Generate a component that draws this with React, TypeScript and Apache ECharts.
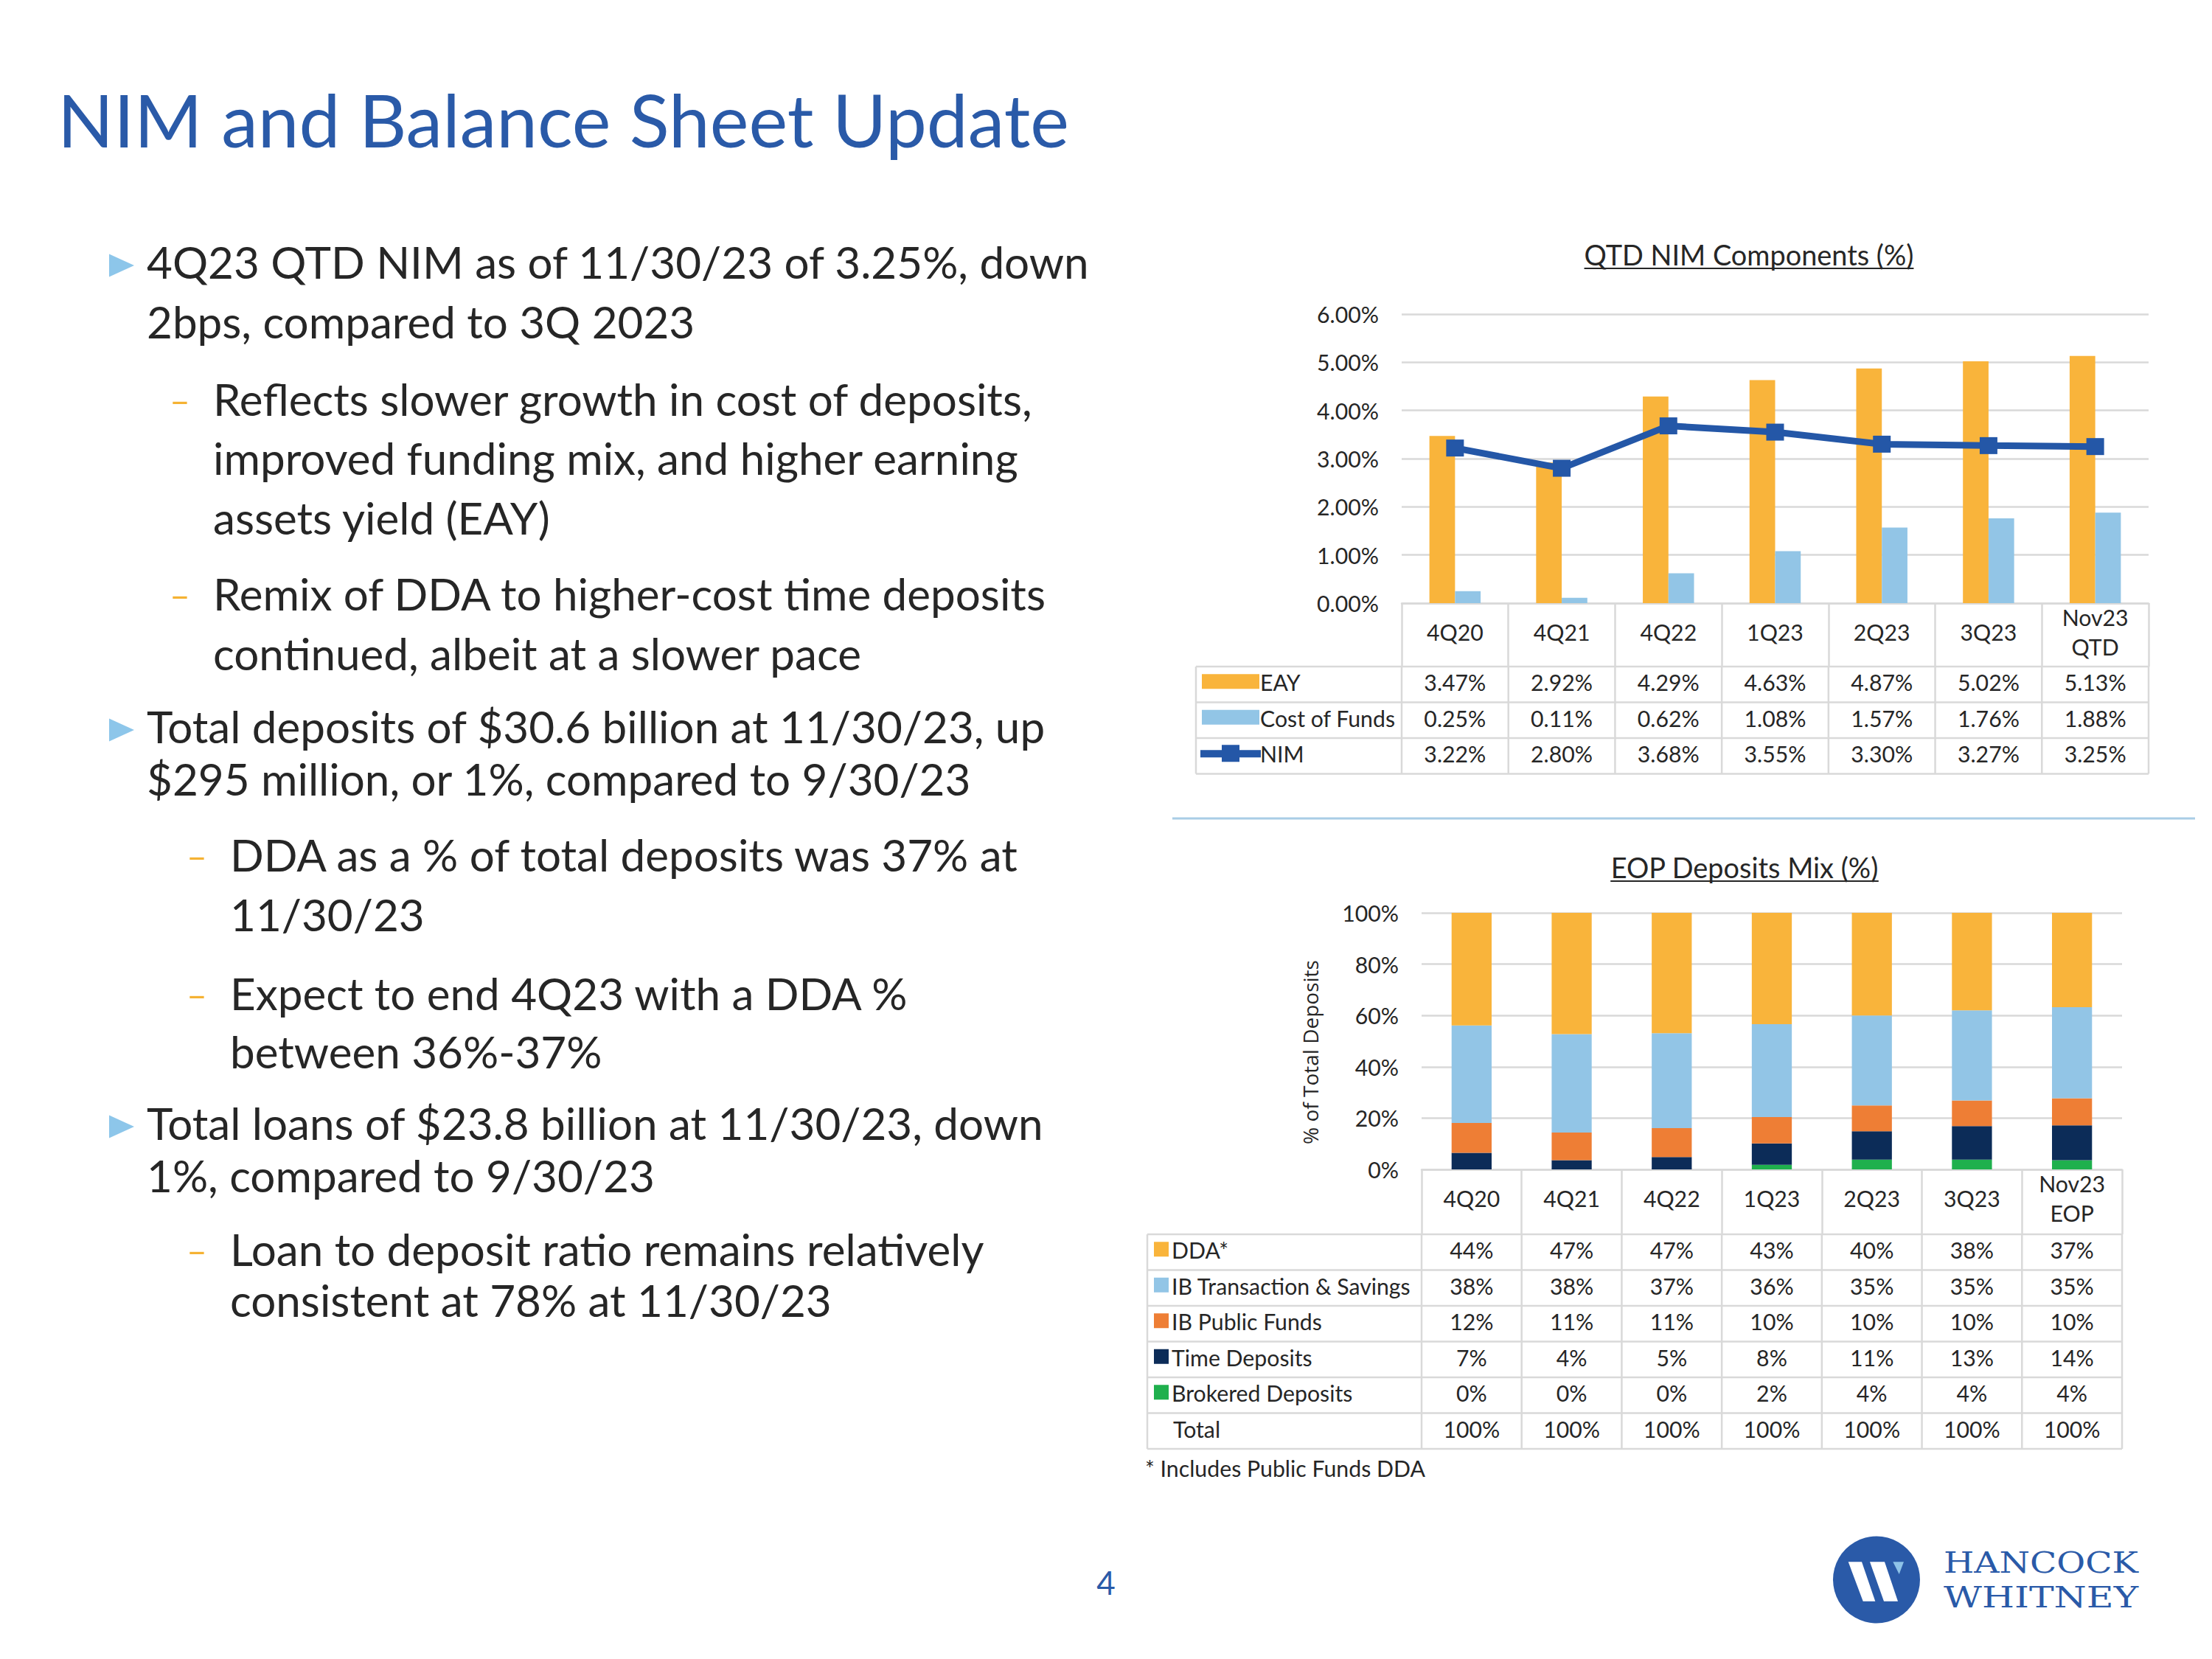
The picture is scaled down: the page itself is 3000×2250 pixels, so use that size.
import React, { useEffect, useRef } from "react";
import * as echarts from "echarts";

// ---------- data ----------
const nimCategories = ["4Q20", "4Q21", "4Q22", "1Q23", "2Q23", "3Q23", "Nov23\nQTD"];
const eay = [3.47, 2.92, 4.29, 4.63, 4.87, 5.02, 5.13];
const costOfFunds = [0.25, 0.11, 0.62, 1.08, 1.57, 1.76, 1.88];
const nim = [3.22, 2.8, 3.68, 3.55, 3.3, 3.27, 3.25];

const mixCategories = ["4Q20", "4Q21", "4Q22", "1Q23", "2Q23", "3Q23", "Nov23\nEOP"];
// bar segment heights (% of total deposits)
const ddaBars = [43.9, 47.3, 46.9, 43.4, 40.0, 38.0, 36.8];
const ibTransBars = [38.0, 38.3, 37.0, 36.2, 35.1, 35.1, 35.5];
const ibPublicBars = [11.6, 10.8, 11.3, 10.3, 10.0, 10.0, 10.5];
const timeBars = [6.5, 3.6, 4.8, 8.3, 11.1, 13.1, 13.6];
const brokeredBars = [0, 0, 0, 1.8, 3.8, 3.8, 3.6];
// values as printed in the table under the bars
const ddaTable = [44, 47, 47, 43, 40, 38, 37];
const ibTransTable = [38, 38, 37, 36, 35, 35, 35];
const ibPublicTable = [12, 11, 11, 10, 10, 10, 10];
const timeTable = [7, 4, 5, 8, 11, 13, 14];
const brokeredTable = [0, 0, 0, 2, 4, 4, 4];
const totalTable = [100, 100, 100, 100, 100, 100, 100];

// ---------- colours ----------
const BLUE = "#2A5AA8";
const TEXT = "#262626";
const GRID = "#D9D9D9";
const C_GOLD = "#F9B43B";
const C_LBLUE = "#92C5E6";
const C_ORANGE = "#EE7E35";
const C_NAVY = "#0C2C58";
const C_GREEN = "#1FB04D";
const C_NIM = "#2457A7";

const W = 3000;
const H = 2250;

export default function App() {
  const ref = useRef<HTMLDivElement>(null);

  useEffect(() => {
    const el = ref.current!;
    const chart = echarts.init(el, undefined, { renderer: "svg", width: W, height: H });

    const ctx = document.createElement("canvas").getContext("2d")!;
    const measure = (t: string, size: number, fam: string) => {
      ctx.font = `${size}px ${fam}`;
      return ctx.measureText(t).width;
    };
    const fit = (t: string, w: number, fam: string) => (100 * w) / measure(t, 100, fam);

    const titleSize = fit("NIM and Balance Sheet Update", 1372, "Lato");
    const bodySize = fit("4Q23 QTD NIM as of 11/30/23 of 3.25%, down", 1280, "Lato");
    const chartTitleSize = fit("QTD NIM Components (%)", 447, "Lato");
    const tableSize = Math.min(fit("IB Transaction & Savings", 332, "Lato"), fit("3.47%", 84, "Lato"));
    const footSize = fit("* Includes Public Funds DDA", 380, "Lato");
    const axisNameSize = fit("% of Total Deposits", 250, "'Open Sans'");

    const g: any[] = [];
    const txt = (x: number, y: number, text: string, size: number, o: any = {}) =>
      g.push({
        type: "text",
        x,
        y,
        rotation: o.rotation || 0,
        scaleX: o.scaleX || 1,
        z: 10,
        style: {
          text,
          fill: o.fill || TEXT,
          fontSize: size,
          fontFamily: o.family || "Lato",
          align: o.align || "left",
          verticalAlign: o.va || "middle",
        },
      });
    const line = (x1: number, y1: number, x2: number, y2: number, stroke: string, lw: number) =>
      g.push({ type: "line", z: 5, shape: { x1, y1, x2, y2 }, style: { stroke, lineWidth: lw } });
    const rect = (x: number, y: number, w: number, h: number, fill: string) =>
      g.push({ type: "rect", z: 6, shape: { x, y, width: w, height: h }, style: { fill } });

    // ---- slide title ----
    txt(78, 161, "NIM and Balance Sheet Update", titleSize, { fill: BLUE });

    // ---- bullets ----
    const paras = [
      { lv: 0, lines: ["4Q23 QTD NIM as of 11/30/23 of 3.25%, down", "2bps, compared to 3Q 2023"], y: [358, 439] },
      { lv: 1, lines: ["Reflects slower growth in cost of deposits,", "improved funding mix, and higher earning", "assets yield (EAY)"], y: [544, 624, 705] },
      { lv: 1, lines: ["Remix of DDA to higher-cost time deposits", "continued, albeit at a slower pace"], y: [808, 889] },
      { lv: 0, lines: ["Total deposits of $30.6 billion at 11/30/23, up", "$295 million, or 1%, compared to 9/30/23"], y: [988, 1059] },
      { lv: 2, lines: ["DDA as a % of total deposits was 37% at", "11/30/23"], y: [1162, 1243] },
      { lv: 2, lines: ["Expect to end 4Q23 with a DDA %", "between 36%-37%"], y: [1350, 1429] },
      { lv: 0, lines: ["Total loans of $23.8 billion at 11/30/23, down", "1%, compared to 9/30/23"], y: [1526, 1597] },
      { lv: 2, lines: ["Loan to deposit ratio remains relatively", "consistent at 78% at 11/30/23"], y: [1697, 1766] },
    ];
    const textX = [199, 289, 312];
    const dashX = [0, 230, 253];
    paras.forEach((p) => {
      const c = p.y[0] + 2;
      if (p.lv === 0) {
        g.push({
          type: "polygon",
          z: 6,
          shape: { points: [[148, c - 15.5], [182, c], [148, c + 15.5]] },
          style: { fill: "#8DC6EA" },
        });
      } else {
        txt(dashX[p.lv], p.y[0] - 2, "–", bodySize * 0.8, { fill: "#F5B233" });
      }
      p.lines.forEach((ln, i) => txt(textX[p.lv], p.y[i] - 3, ln, bodySize));
    });

    // ---- layouts of the two chart panels ----
    const TOP = { left: 1901, right: 2914, top: 426, bottom: 818, labelCol: 1622, header: 86, row: 48.5 };
    const BOT = { left: 1928, right: 2878, top: 1238, bottom: 1586, labelCol: 1556, header: 88, row: 48.5 };

    // chart titles (underlined)
    const ctitle = (cx: number, cy: number, t: string) => {
      txt(cx, cy - 3, t, chartTitleSize, { align: "center" });
      const w = measure(t, chartTitleSize, "Lato");
      line(cx - w / 2, cy + 16, cx + w / 2, cy + 16, TEXT, 2);
    };
    ctitle(2372, 348, "QTD NIM Components (%)");
    ctitle(2366, 1179, "EOP Deposits Mix (%)");

    // table builder
    const table = (L: typeof TOP, rows: { name: string; key: string; color?: string; vals: string[] }[]) => {
      const n = 7;
      const cw = (L.right - L.left) / n;
      const y0 = L.bottom + L.header;
      const yEnd = y0 + rows.length * L.row;
      for (let r = 0; r <= rows.length; r++) line(L.labelCol, y0 + r * L.row, L.right, y0 + r * L.row, GRID, 2.5);
      line(L.labelCol, y0, L.labelCol, yEnd, GRID, 2.5);
      for (let k = 0; k <= n; k++) line(L.left + k * cw, y0, L.left + k * cw, yEnd, GRID, 2.5);
      rows.forEach((row, r) => {
        const cy = y0 + (r + 0.5) * L.row;
        let tx = L.labelCol + 33;
        if (row.key === "bar") {
          rect(L.labelCol + 8, cy - 14, 78, 20, row.color!);
          tx = L.labelCol + 87;
        } else if (row.key === "line") {
          line(L.labelCol + 6, cy - 3, L.labelCol + 88, cy - 3, row.color!, 10);
          rect(L.labelCol + 35, cy - 15, 24, 23, row.color!);
          tx = L.labelCol + 87;
        } else if (row.key === "sq") {
          rect(L.labelCol + 9, cy - 14, 20, 20, row.color!);
        } else {
          tx = L.labelCol + 35;
        }
        txt(tx, cy - 3, row.name, tableSize);
        row.vals.forEach((v, i) => txt(L.left + (i + 0.5) * cw, cy - 3, v, tableSize, { align: "center" }));
      });
    };
    const pct2 = (a: number[]) => a.map((v) => v.toFixed(2) + "%");
    const pct0 = (a: number[]) => a.map((v) => v + "%");
    table(TOP, [
      { name: "EAY", key: "bar", color: C_GOLD, vals: pct2(eay) },
      { name: "Cost of Funds", key: "bar", color: C_LBLUE, vals: pct2(costOfFunds) },
      { name: "NIM", key: "line", color: C_NIM, vals: pct2(nim) },
    ]);
    table(BOT, [
      { name: "DDA*", key: "sq", color: C_GOLD, vals: pct0(ddaTable) },
      { name: "IB Transaction & Savings", key: "sq", color: C_LBLUE, vals: pct0(ibTransTable) },
      { name: "IB Public Funds", key: "sq", color: C_ORANGE, vals: pct0(ibPublicTable) },
      { name: "Time Deposits", key: "sq", color: C_NAVY, vals: pct0(timeTable) },
      { name: "Brokered Deposits", key: "sq", color: C_GREEN, vals: pct0(brokeredTable) },
      { name: "Total", key: "none", vals: pct0(totalTable) },
    ]);
    txt(1553, 1991, "* Includes Public Funds DDA", footSize);

    // divider
    line(1590, 1110, 2977, 1110, "#A9CDE6", 3);

    // y axis name of bottom chart
    txt(1777, 1427, "% of Total Deposits", axisNameSize, {
      family: "'Open Sans'",
      align: "center",
      rotation: Math.PI / 2,
    });

    // page number
    txt(1500, 2146, "4", 44, { fill: BLUE, align: "center" });

    // logo
    g.push({ type: "circle", z: 6, shape: { cx: 2545, cy: 2142.5, r: 59 }, style: { fill: BLUE } });
    g.push({
      type: "polygon",
      z: 7,
      shape: { points: [[2506.7, 2118.3], [2525, 2118.3], [2543.3, 2171.7], [2526.7, 2171.7]] },
      style: { fill: "#fff" },
    });
    g.push({
      type: "polygon",
      z: 7,
      shape: { points: [[2536, 2118.3], [2556, 2118.3], [2574, 2171.7], [2555, 2171.7]] },
      style: { fill: "#fff" },
    });
    g.push({
      type: "polygon",
      z: 7,
      shape: { points: [[2567.3, 2118.3], [2582, 2118.3], [2575.7, 2135]] },
      style: { fill: "#8EC3E8" },
    });
    const logoSize = 40;
    const fam = "'DejaVu Serif'";
    const sx1 = 264 / measure("HANCOCK", logoSize, fam);
    const sx2 = 264 / measure("WHITNEY", logoSize, fam);
    txt(2636, 2119, "HANCOCK", logoSize, { family: "DejaVu Serif", fill: BLUE, scaleX: sx1 });
    txt(2636, 2166, "WHITNEY", logoSize, { family: "DejaVu Serif", fill: BLUE, scaleX: sx2 });

    const axisText = { fontSize: tableSize, color: TEXT, fontFamily: "Lato" };
    const catAxis = (gi: number, data: string[], len: number) => ({
      type: "category",
      gridIndex: gi,
      data,
      axisLine: { lineStyle: { color: GRID, width: 2.5 } },
      axisTick: { show: true, length: len, lineStyle: { color: GRID, width: 2.5 } },
      axisLabel: { ...axisText, interval: 0, margin: 39, verticalAlign: "middle", lineHeight: 40 },
    });

    const option: any = {
      animation: false,
      backgroundColor: "#ffffff",
      grid: [
        { left: TOP.left, top: TOP.top, width: TOP.right - TOP.left, height: TOP.bottom - TOP.top, outerBoundsMode: "none", containLabel: false },
        { left: BOT.left, top: BOT.top, width: BOT.right - BOT.left, height: BOT.bottom - BOT.top, outerBoundsMode: "none", containLabel: false },
      ],
      xAxis: [catAxis(0, nimCategories, TOP.header), catAxis(1, mixCategories, BOT.header)],
      yAxis: [
        {
          type: "value",
          gridIndex: 0,
          min: 0,
          max: 6,
          interval: 1,
          axisLine: { show: false },
          axisTick: { show: false },
          splitLine: { lineStyle: { color: GRID, width: 2.5 } },
          axisLabel: { ...axisText, margin: 31, formatter: (v: number) => v.toFixed(2) + "%" },
        },
        {
          type: "value",
          gridIndex: 1,
          min: 0,
          max: 100,
          interval: 20,
          axisLine: { show: false },
          axisTick: { show: false },
          splitLine: { lineStyle: { color: GRID, width: 2.5 } },
          axisLabel: { ...axisText, margin: 31, formatter: "{value}%" },
        },
      ],
      series: [
        { name: "EAY", type: "bar", xAxisIndex: 0, yAxisIndex: 0, data: eay, barWidth: "24%", barGap: "0%", itemStyle: { color: C_GOLD } },
        { name: "Cost of Funds", type: "bar", xAxisIndex: 0, yAxisIndex: 0, data: costOfFunds, barWidth: "24%", barGap: "0%", itemStyle: { color: C_LBLUE } },
        {
          name: "NIM",
          type: "line",
          xAxisIndex: 0,
          yAxisIndex: 0,
          data: nim,
          z: 5,
          symbol: "rect",
          symbolSize: [24, 23],
          lineStyle: { color: C_NIM, width: 9 },
          itemStyle: { color: C_NIM },
        },
        { name: "Brokered Deposits", type: "bar", stack: "mix", xAxisIndex: 1, yAxisIndex: 1, data: brokeredBars, barWidth: "40%", itemStyle: { color: C_GREEN } },
        { name: "Time Deposits", type: "bar", stack: "mix", xAxisIndex: 1, yAxisIndex: 1, data: timeBars, barWidth: "40%", itemStyle: { color: C_NAVY } },
        { name: "IB Public Funds", type: "bar", stack: "mix", xAxisIndex: 1, yAxisIndex: 1, data: ibPublicBars, barWidth: "40%", itemStyle: { color: C_ORANGE } },
        { name: "IB Transaction & Savings", type: "bar", stack: "mix", xAxisIndex: 1, yAxisIndex: 1, data: ibTransBars, barWidth: "40%", itemStyle: { color: C_LBLUE } },
        { name: "DDA*", type: "bar", stack: "mix", xAxisIndex: 1, yAxisIndex: 1, data: ddaBars, barWidth: "40%", itemStyle: { color: C_GOLD } },
      ],
      graphic: g,
    };

    chart.setOption(option);
    return () => chart.dispose();
  }, []);

  return (
    <div
      ref={ref}
      style={{ position: "absolute", left: 0, top: 0, width: W, height: H, background: "#fff" }}
    />
  );
}
